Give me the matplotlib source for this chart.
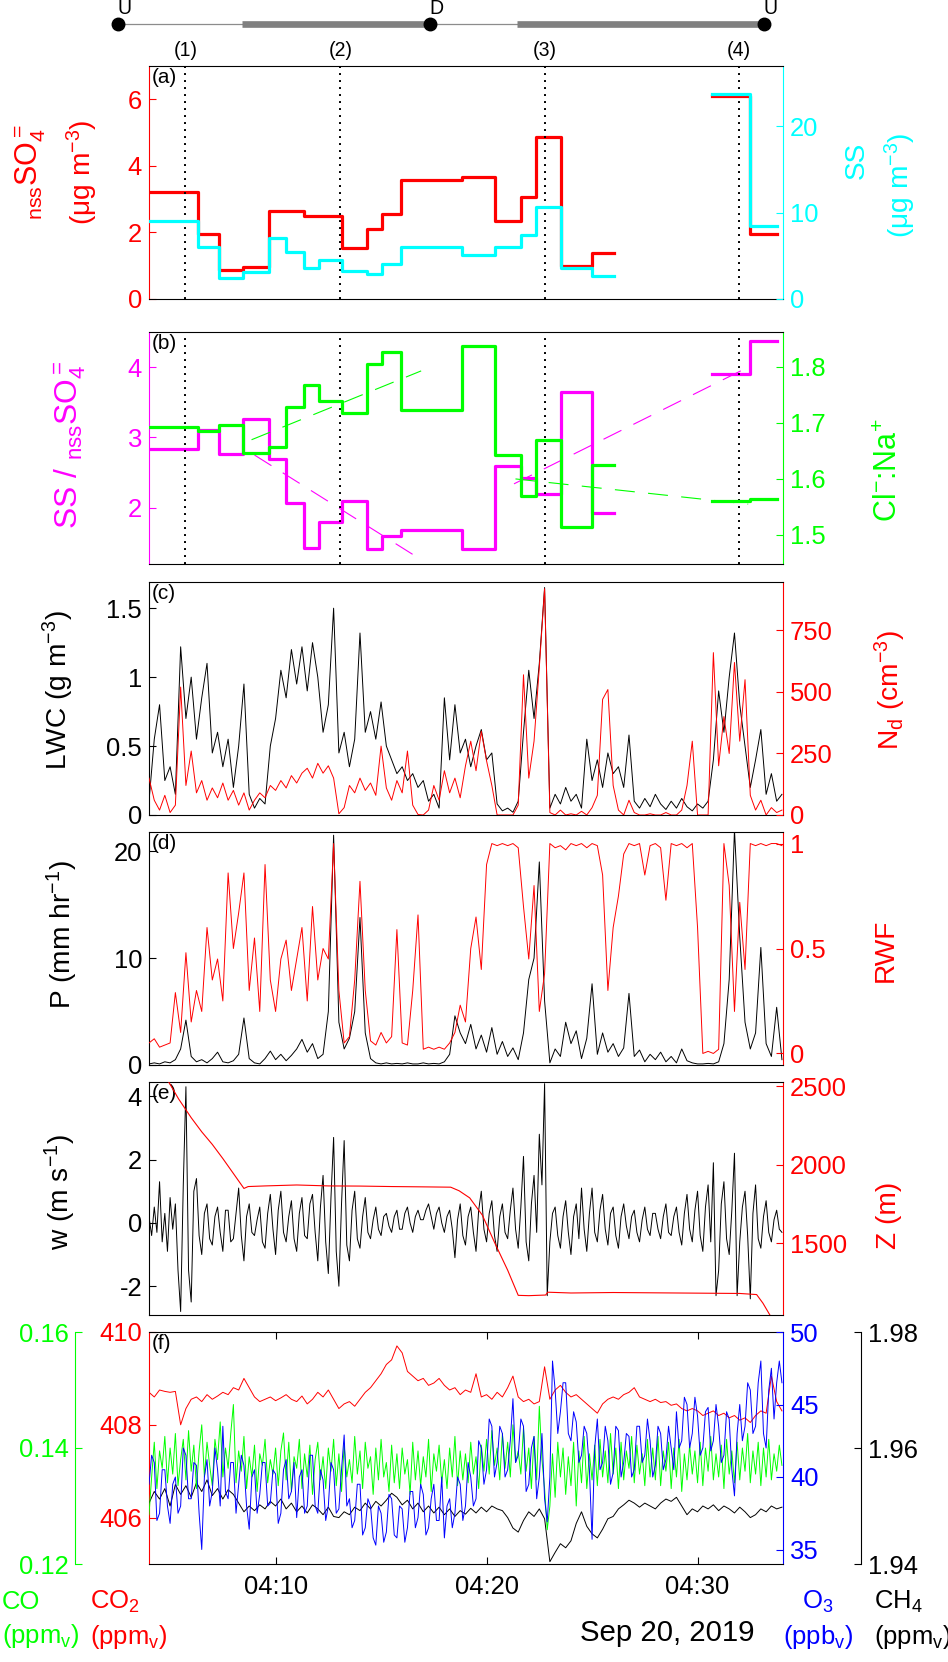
import numpy as np
import matplotlib
matplotlib.use("Agg")
import matplotlib.pyplot as plt
from matplotlib import font_manager
from matplotlib.ticker import FuncFormatter

_names = {f.name for f in font_manager.fontManager.ttflist}
FONT = 'Liberation Sans Narrow' if 'Liberation Sans Narrow' in _names else 'Liberation Sans'
SC = 1.0 if FONT.endswith('Narrow') else 0.88

plt.rcParams['font.family'] = [FONT, 'DejaVu Sans']
plt.rcParams['mathtext.fontset'] = 'custom'
plt.rcParams['mathtext.rm'] = FONT
plt.rcParams['mathtext.it'] = FONT + ':italic'
plt.rcParams['mathtext.default'] = 'regular'
plt.rcParams['axes.unicode_minus'] = False

RED, CYAN, MAG, GREEN, BLUE = '#ff0000', '#00ffff', '#ff00ff', '#00ff00', '#0000ff'

# ---- filter samples (minutes after 04:00) ----
filt_edges = [4.05, 6.3, 7.33, 8.45, 9.7, 10.49, 11.34, 12.04, 13.16, 14.32, 15.02,
              15.94, 18.85, 20.42, 21.62, 22.34, 23.52, 25.0, 26.04, 30.69, 32.48, 33.75]
nss_so4 = [3.2, 1.96, 0.87, 0.95, 2.63, 2.63, 2.49, 2.49, 1.54, 2.11, 2.55,
           3.59, 3.67, 2.33, 3.06, 4.87, 0.98, 1.38, np.nan, 6.1, 1.94]
sea_salt = [9.09, 6.07, 2.4, 3.1, 7.08, 5.42, 3.56, 4.53, 3.21, 2.9, 4.06,
            6.07, 5.14, 6.07, 7.43, 10.64, 3.6, 2.63, np.nan, 23.8, 8.47]
ss_ratio = [2.84, 3.10, 2.76, 3.26, 2.69, 2.07, 1.43, 1.80, 2.10, 1.42, 1.60,
            1.69, 1.41, 2.60, 2.43, 2.19, 3.65, 1.92, np.nan, 3.90, 4.37]
cl_na = [1.692, 1.685, 1.697, 1.646, 1.657, 1.729, 1.768, 1.739, 1.717, 1.805, 1.827,
         1.723, 1.838, 1.642, 1.570, 1.670, 1.514, 1.624, np.nan, 1.560, 1.565]

# fit lines in panel (b)
fit_cl_t = [[8.86, 16.9], [21.37, 32.4]]
fit_cl_v = [[1.670, 1.793], [1.600, 1.555]]
fit_ratio_t = [[9.0, 16.8], [21.3, 32.4]]
fit_ratio_v = [[2.75, 1.28], [2.34, 4.00]]

marks_t = [5.73, 13.07, 22.75, 31.95]
marks_lab = ['(1)', '(2)', '(3)', '(4)']

track_t = [2.52, 17.30, 33.14]
track_lab = ['U', 'D', 'U']
level_legs = [(8.42, 17.16), (21.46, 32.98)]

# ---- 15 s samples from 04:04 ----
t0, dt = 4.0, 0.25

lwc = [0.1, 0.55, 0.8, 0.25, 0.35, 0.15, 1.22, 0.7, 1.0, 0.55, 0.85, 1.1,
       0.45, 0.6, 0.35, 0.55, 0.2, 0.5, 0.95, 0.15, 0.05, 0.12, 0.08, 0.5,
       0.7, 1.05, 0.85, 1.2, 0.95, 1.22, 0.9, 1.25, 1.0, 0.6, 0.8, 1.5,
       0.45, 0.6, 0.35, 0.55, 1.32, 0.6, 0.75, 0.55, 0.82, 0.5, 0.4, 0.3,
       0.35, 0.25, 0.3, 0.2, 0.25, 0.1, 0.15, 0.05, 0.85, 0.4, 0.8, 0.45,
       0.55, 0.35, 0.5, 0.62, 0.4, 0.45, 0.08, 0.03, 0.05, 0.02, 0.1, 0.6,
       1.05, 0.7, 1.1, 1.65, 0.05, 0.15, 0.08, 0.2, 0.1, 0.15, 0.05, 0.55,
       0.25, 0.4, 0.2, 0.45, 0.3, 0.35, 0.2, 0.58, 0.1, 0.05, 0.12, 0.06,
       0.15, 0.08, 0.04, 0.1, 0.05, 0.12, 0.06, 0.03, 0.08, 0.05, 0.1, 0.4,
       0.9, 0.6, 1.0, 1.32, 0.8, 0.5, 0.2, 0.4, 0.62, 0.15, 0.3, 0.1, 0.15]
nd = [150, 60, 20, 80, 10, 40, 520, 120, 260, 90, 140, 60,
      110, 70, 130, 60, 100, 40, 90, 20, 60, 90, 70, 120,
      100, 140, 110, 160, 130, 170, 190, 150, 210, 170, 200, 150,
      5, 30, 120, 90, 150, 100, 130, 80, 280, 110, 60, 140,
      90, 260, 40, 2, 0, 20, 120, 60, 180, 90, 150, 70,
      200, 300, 180, 340, 220, 120, 0, 0, 0, 0, 40, 570,
      150, 300, 600, 920, 10, 0, 20, 0, 5, 0, 15, 0,
      30, 80, 470, 510, 120, 20, 0, 60, 10, 0, 0, 5,
      0, 0, 10, 0, 0, 20, 120, 300, 0, 0, 0, 660,
      200, 400, 250, 620, 300, 550, 80, 20, 60, 0, 30, 10, 20]
precip = [0.1, 0.2, 0.1, 0.3, 0.2, 0.5, 1.5, 4.2, 0.8, 0.3, 0.5, 0.2,
          0.6, 1.2, 0.3, 0.2, 0.4, 1.0, 4.4, 0.6, 0.2, 0.1, 0.6, 1.3,
          0.5, 1.0, 0.4, 0.9, 1.5, 2.4, 1.2, 2.0, 0.6, 1.0, 5.0, 21.5,
          4.0, 1.5, 2.5, 5.0, 13.8, 3.0, 0.6, 0.2, 0.1, 0.2, 0.1, 0.15,
          0.1, 0.2, 0.1, 0.1, 0.2, 0.1, 0.15, 0.1, 0.3, 1.0, 4.6, 3.0,
          2.0, 3.8, 1.5, 2.8, 1.2, 3.5, 1.0, 2.2, 0.8, 1.6, 0.5, 3.0,
          8.0, 10.0, 19.0, 6.0, 0.2, 1.5, 0.8, 4.0, 2.0, 3.2, 0.6, 2.5,
          7.6, 1.0, 3.0, 1.2, 2.0, 0.8, 1.6, 6.7, 0.8, 1.4, 0.3, 1.0,
          0.5, 1.2, 0.3, 0.8, 0.2, 1.5, 0.4, 0.2, 0.1, 0.1, 0.15, 0.1,
          0.3, 2.0, 8.0, 22.0, 12.0, 4.0, 1.5, 3.0, 11.0, 2.0, 0.8, 5.4, 0.5]
rwf = [0.05, 0.07, 0.03, 0.04, 0.05, 0.29, 0.1, 0.48, 0.15, 0.3, 0.2, 0.6,
       0.35, 0.45, 0.25, 0.86, 0.5, 0.67, 0.86, 0.3, 0.55, 0.2, 0.9, 0.35,
       0.2, 0.45, 0.54, 0.3, 0.45, 0.6, 0.25, 0.7, 0.35, 0.5, 0.45, 1.0,
       0.3, 0.05, 0.08, 0.35, 0.82, 0.3, 0.06, 0.04, 0.1, 0.05, 0.08, 0.59,
       0.05, 0.04, 0.3, 0.66, 0.02, 0.03, 0.02, 0.03, 0.02, 0.05, 0.1, 0.23,
       0.15, 0.5, 0.65, 0.4, 0.9, 1.0, 0.99, 1.0, 0.99, 1.0, 0.98, 0.7,
       0.45, 0.8, 0.2, 0.38, 1.0, 0.98, 0.99, 0.97, 1.0, 0.99, 1.0, 0.98,
       1.0, 0.99, 0.85, 0.3, 0.6, 0.75, 0.95, 1.0, 0.99, 1.0, 0.85, 0.99,
       1.0, 0.98, 0.73, 1.0, 0.99, 1.0, 0.98, 1.0, 0.6, 0.0, 0.01, 0.0,
       0.02, 1.0, 0.8, 0.2, 0.72, 0.4, 1.0, 0.99, 1.0, 0.99, 1.0, 1.0, 0.99]
co2 = [408.7, 408.6, 408.75, 408.72, 408.7, 408.72, 408.0, 408.35, 408.55, 408.6, 408.5, 408.65,
       408.55, 408.62, 408.7, 408.65, 408.8, 408.75, 409.0, 408.8, 408.6, 408.5, 408.55, 408.6,
       408.52, 408.58, 408.65, 408.55, 408.5, 408.62, 408.45, 408.55, 408.7, 408.6, 408.75, 408.55,
       408.35, 408.45, 408.5, 408.4, 408.55, 408.7, 408.8, 408.95, 409.1, 409.3, 409.4, 409.7,
       409.55, 409.15, 409.05, 408.95, 409.0, 408.85, 408.9, 409.0, 408.85, 408.75, 408.8, 408.65,
       408.75, 408.7, 409.1, 408.6, 408.65, 408.55, 408.7, 408.6, 408.8, 409.05, 408.6, 408.5,
       408.55, 408.45, 408.5, 409.25, 408.55, 408.75, 408.85, 408.7, 408.6, 408.65, 408.55, 408.45,
       408.35, 408.25, 408.45, 408.55, 408.6, 408.55, 408.65, 408.7, 408.8, 408.6, 408.55, 408.5,
       408.55, 408.48, 408.5, 408.42, 408.45, 408.35, 408.3, 408.35, 408.3, 408.2, 408.25, 408.3,
       408.2, 408.25, 408.15, 408.2, 408.1, 408.15, 408.05, 408.2, 408.3, 408.25, 409.05, 408.5, 408.3]
ch4 = [1.9505, 1.9525, 1.9512, 1.9530, 1.9500, 1.9537, 1.9520, 1.9535, 1.9515, 1.9540, 1.9525, 1.9545,
       1.9518, 1.9530, 1.9512, 1.9528, 1.9520, 1.9505, 1.9490, 1.9500, 1.9492, 1.9502, 1.9495, 1.9508,
       1.9500, 1.9512, 1.9495, 1.9505, 1.9490, 1.9500, 1.9488, 1.9502, 1.9495, 1.9485, 1.9498, 1.9482,
       1.9480, 1.9490, 1.9485, 1.9498, 1.9492, 1.9505, 1.9495, 1.9508, 1.9500, 1.9510, 1.9522, 1.9515,
       1.9502, 1.9510, 1.9495, 1.9505, 1.9490, 1.9500, 1.9488, 1.9498, 1.9485, 1.9495, 1.9482, 1.9492,
       1.9486, 1.9496, 1.9488, 1.9498, 1.9490, 1.9500, 1.9495, 1.9492, 1.9480, 1.9462, 1.9455, 1.9475,
       1.9490, 1.9482, 1.9495, 1.9478, 1.9404, 1.9420, 1.9435, 1.9428, 1.9440, 1.9470, 1.9490, 1.9465,
       1.9452, 1.9445, 1.9460, 1.9478, 1.9482, 1.9495, 1.9502, 1.9510, 1.9505, 1.9498, 1.9505, 1.9500,
       1.9495, 1.9505, 1.9512, 1.9508, 1.9515, 1.9500, 1.9485, 1.9495, 1.9490, 1.9500, 1.9495, 1.9502,
       1.9492, 1.9500, 1.9495, 1.9488, 1.9498, 1.9490, 1.9480, 1.9485, 1.9495, 1.9490, 1.9500, 1.9495, 1.9498]

# ---- 7.5 s samples from 04:04 ----
hi_dt = 0.125
w_vert = [0.2, -0.4, 0.5, -0.3, 1.3, -0.6, 0.3, -0.9,
          0.8, -0.2, 0.6, -1.5, -2.8, 1.2, 4.3, -1.5,
          -2.5, 1.0, 1.4, -0.4, -1.0, 0.3, 0.6, -0.5,
          -0.7, 0.2, 0.5, -0.3, -0.9, 0.4, 0.4, -0.6,
          -0.5, 0.3, 1.1, -0.4, -1.2, 0.2, 0.6, -0.3,
          -0.4, 0.1, 0.5, -0.6, -0.8, 0.3, 0.9, -0.2,
          -1.0, 0.4, 1.0, -0.3, -0.6, 0.2, 0.7, -0.5,
          -0.9, 0.3, 0.8, -0.4, -0.5, 0.6, 0.9, -0.3,
          -1.2, 0.5, 1.5, -0.6, -1.6, 0.8, 2.7, -0.9,
          -2.0, 0.6, 2.6, -0.7, -1.2, 0.4, 1.0, -0.5,
          -0.8, 0.2, 0.8, -0.3, -0.5, 0.1, 0.5, -0.2,
          -0.4, 0.2, 0.3, -0.1, -0.3, 0.2, 0.4, -0.2,
          -0.2, 0.3, 0.5, 0.0, -0.3, 0.2, 0.4, 0.1,
          0.1, 0.4, 0.6, 0.2, -0.2, 0.3, 0.5, 0.0,
          -0.3, 0.2, 0.4, -0.2, -1.1, 0.1, 0.6, -0.4,
          -0.7, 0.2, 0.5, -0.3, -0.9, 0.4, 1.0, -0.2,
          -0.6, 0.3, 0.7, -0.4, -0.9, 0.2, 0.6, -0.3,
          -0.5, 0.4, 1.1, -0.2, -0.8, 0.5, 2.1, -0.6,
          -1.2, 0.6, 1.5, -0.3, 2.8, 1.2, 4.4, -2.3,
          -0.6, 0.3, 0.5, -0.4, -0.8, 0.2, 0.7, -0.3,
          -1.0, 0.2, 0.6, -0.5, 1.1, -0.2, -0.9, 0.3,
          1.1, -0.3, -0.6, 0.4, 0.9, -0.2, -0.7, 0.3,
          0.5, -0.4, -0.8, 0.2, 0.6, -0.1, -0.5, 0.2,
          0.4, -0.3, -0.6, 0.1, 0.5, -0.2, -0.4, 0.3,
          0.3, -0.2, -0.5, 0.2, 0.6, -0.3, -0.4, 0.2,
          0.5, -0.3, -0.7, 0.3, 0.9, -0.2, -0.6, 0.4,
          1.0, -0.4, -0.9, 0.5, 1.2, -0.6, 1.9, -2.3,
          -1.5, 0.6, 1.3, -0.5, -1.0, 0.4, 2.2, -2.3,
          -0.6, 0.5, 1.0, -0.4, -2.4, 0.3, 1.2, -0.5,
          -0.8, 0.2, 0.7, -0.3, -0.6, 0.1, 0.4, -0.2,
          -0.3]
co = [.1285, .1350, .1410, .1330, .1395, .1365, .1420, .1340,
      .1400, .1355, .1425, .1335, .1380, .1415, .1345, .1430,
      .1360, .1405, .1330, .1395, .1440, .1350, .1410, .1370,
      .1335, .1415, .1380, .1445, .1350, .1400, .1365, .1425,
      .1475, .1340, .1395, .1360, .1420, .1330, .1385, .1350,
      .1405, .1325, .1390, .1370, .1415, .1340, .1380, .1355,
      .1400, .1335, .1395, .1426, .1345, .1410, .1325, .1385,
      .1365, .1415, .1330, .1390, .1350, .1405, .1320, .1380,
      .1410, .1345, .1385, .1330, .1400, .1360, .1415, .1335,
      .1390, .1325, .1405, .1350, .1380, .1340, .1420, .1355,
      .1395, .1330, .1410, .1365, .1385, .1320, .1400, .1345,
      .1415, .1350, .1375, .1325, .1405, .1340, .1390, .1330,
      .1400, .1355, .1380, .1320, .1410, .1345, .1395, .1335,
      .1385, .1350, .1415, .1325, .1390, .1360, .1405, .1340,
      .1380, .1330, .1400, .1350, .1420, .1335, .1395, .1345,
      .1390, .1340, .1410, .1355, .1385, .1330, .1405, .1360,
      .1415, .1355, .1430, .1370, .1400, .1345, .1425, .1365,
      .1410, .1350, .1440, .1375, .1395, .1355, .1435, .1360,
      .1400, .1330, .1420, .1345, .1472, .1380, .1330, .1259,
      .1300, .1390, .1315, .1410, .1350, .1400, .1320, .1385,
      .1335, .1410, .1300, .1395, .1340, .1420, .1330, .1390,
      .1345, .1405, .1335, .1415, .1350, .1395, .1340, .1425,
      .1355, .1400, .1330, .1410, .1345, .1395, .1365, .1420,
      .1340, .1405, .1355, .1390, .1335, .1415, .1350, .1400,
      .1345, .1420, .1335, .1395, .1360, .1410, .1330, .1400,
      .1350, .1415, .1325, .1390, .1345, .1405, .1355, .1395,
      .1340, .1410, .1335, .1400, .1360, .1420, .1345, .1390,
      .1350, .1405, .1330, .1415, .1355, .1395, .1340, .1410,
      .1345, .1400, .1360, .1425, .1340, .1395, .1355, .1410,
      .1335, .1400, .1350, .1415, .1345, .1390, .1360, .1405,
      .1370]
o3 = [39.5, 41.5, 41.0, 37.0, 37.5, 40.5, 40.5, 38.0,
      36.8, 39.5, 40.0, 37.5, 38.0, 42.0, 41.5, 38.5,
      38.5, 41.0, 40.8, 37.5, 35.0, 40.0, 41.2, 38.0,
      39.0, 42.0, 40.5, 38.0, 43.5, 39.0, 38.5, 41.0,
      41.0, 37.5, 39.5, 41.5, 40.8, 38.0, 36.4, 40.0,
      40.5, 37.5, 38.8, 41.0, 41.0, 38.0, 38.2, 40.5,
      40.2, 36.8, 37.5, 40.5, 41.2, 38.5, 39.0, 41.0,
      37.2, 40.0, 40.5, 37.5, 38.0, 41.5, 41.5, 38.0,
      37.5, 40.5, 39.8, 37.0, 38.0, 41.0, 40.5, 37.5,
      37.8, 40.5, 42.9, 38.0, 38.5, 36.5, 37.0, 39.5,
      39.5, 36.0, 36.5, 38.5, 38.0, 35.8, 35.3, 38.0,
      37.5, 35.5, 36.2, 38.8, 38.5, 36.0, 35.8, 38.0,
      37.8, 35.5, 36.5, 39.0, 39.0, 36.5, 37.2, 39.5,
      38.8, 36.0, 36.5, 38.5, 39.5, 37.0, 37.0, 40.0,
      35.8, 38.0, 38.5, 36.5, 37.5, 40.0, 39.5, 37.0,
      38.0, 41.0, 40.0, 38.0, 38.5, 42.5, 42.0, 39.5,
      40.5, 44.0, 43.5, 40.0, 41.0, 43.5, 43.0, 40.0,
      40.5, 42.5, 45.4, 41.0, 41.5, 44.0, 43.5, 39.0,
      39.5, 42.0, 42.8, 38.5, 40.0, 43.0, 38.5, 36.9,
      40.0, 48.0, 46.0, 43.0, 44.5, 46.5, 46.5, 43.0,
      42.5, 44.5, 43.8, 41.0, 41.5, 43.5, 43.0, 40.5,
      35.7, 42.0, 44.0, 40.5, 41.0, 43.5, 42.5, 39.5,
      40.3, 43.5, 43.2, 40.0, 41.0, 43.0, 42.8, 40.0,
      40.5, 43.5, 43.5, 41.0, 41.5, 44.0, 42.5, 40.0,
      40.8, 43.5, 43.0, 40.5, 41.2, 43.5, 42.0, 40.5,
      44.5, 42.0, 42.5, 45.5, 45.0, 42.0, 43.0, 45.5,
      44.2, 41.5, 42.0, 44.5, 44.8, 41.8, 42.5, 45.0,
      43.5, 41.0, 41.5, 44.5, 44.0, 40.5, 38.7, 43.0,
      45.0, 42.5, 43.5, 46.5, 46.0, 43.0, 43.5, 46.5,
      48.0, 43.0, 42.0, 46.0, 47.5, 44.0, 46.5, 48.0,
      46.5]

# altitude, sparse points
alt_t = [4.9, 5.4, 6.0, 6.5, 7.0, 7.5, 8.0, 8.5, 8.7, 9.5, 11.0, 12.5, 14.0, 15.5, 17.0,
         18.3, 18.7, 19.2, 19.8, 20.4, 21.0, 21.5, 22.0, 22.8, 22.9, 24.0, 26.0, 28.0,
         30.0, 32.0, 32.8, 33.1, 33.45]
alt_z = [2535, 2420, 2300, 2210, 2130, 2040, 1945, 1850, 1862, 1866, 1872, 1866, 1865,
         1862, 1860, 1858, 1835, 1790, 1680, 1500, 1330, 1170, 1168, 1172, 1190, 1185,
         1188, 1186, 1184, 1182, 1175, 1120, 1040]

time_ticks = [10, 20, 30]
time_labels = ['04:10', '04:20', '04:30']

t = t0 + dt * np.arange(len(lwc))
th = t0 + hi_dt * np.arange(len(w_vert))

# ---- layout ----
W, H = 948, 1662
XL = (4.0, 34.05)
L, AW = 149 / W, 634 / W
panel_px = [(66, 299), (332, 564), (582, 815), (832, 1065), (1082, 1315), (1332, 1564)]
TICK = 21 * SC
LAB = 23 * SC
fmt = FuncFormatter(lambda v, p: '%g' % v)


def steps(edges, vals):
    e = np.asarray(edges, float)
    v = np.asarray(vals, float)
    return np.repeat(e, 2)[1:-1], np.repeat(v, 2)


def make_panel(i, lcol, rcol, letter):
    top, bot = panel_px[i]
    ax = fig.add_axes([L, 1 - bot / H, AW, (bot - top) / H])
    ax2 = ax.twinx()
    ax.set_xlim(*XL)
    ax.set_xticks([])
    for a, c in [(ax, lcol), (ax2, rcol)]:
        a.tick_params(axis='y', direction='in', length=5, width=0.8, labelsize=TICK, colors=c, pad=5)
        a.yaxis.set_major_formatter(fmt)
    for s in ax2.spines.values():
        s.set_visible(False)
    ax.spines['left'].set_color(lcol)
    ax.spines['right'].set_color(rcol)
    ax.text(0.004, 0.99, letter, transform=ax.transAxes, ha='left', va='top', fontsize=17 * SC)
    return ax, ax2


def ylab(x, y, s, c, size=LAB):
    fig.text(x / W, 1 - y / H, s, rotation=90, ha='center', va='center', color=c, fontsize=size)


fig = plt.figure(figsize=(W / 100, H / 100), dpi=100)

# ---- flight track strip ----
axs = fig.add_axes([L, 1 - 62 / H, AW, 62 / H])
axs.set_xlim(*XL)
axs.set_ylim(62, 0)
axs.axis('off')
axs.plot([track_t[0], track_t[-1]], [24, 24], color='#8c8c8c', lw=0.9, clip_on=False)
for a, b in level_legs:
    axs.plot([a, b], [24, 24], color='#808080', lw=4.8, solid_capstyle='butt', clip_on=False)
axs.plot(track_t, [24] * len(track_t), 'o', color='k', ms=9, clip_on=False)
for tt, s in zip(track_t, track_lab):
    axs.text(tt + 0.33, 9, s, ha='center', va='center', fontsize=16 * SC, clip_on=False)
for tt, s in zip(marks_t, marks_lab):
    axs.text(tt, 51, s, ha='center', va='center', fontsize=16 * SC, clip_on=False)

# ---- (a) ----
ax, ax2 = make_panel(0, RED, CYAN, '(a)')
ax.plot(*steps(filt_edges, nss_so4), color=RED, lw=2.3)
ax2.plot(*steps(filt_edges, sea_salt), color=CYAN, lw=2.3)
ax.set_ylim(0, 7)
ax.set_yticks([0, 2, 4, 6])
ax2.set_ylim(0, 27)
ax2.set_yticks([0, 10, 20])
for m in marks_t:
    ax.axvline(m, color='k', lw=1.4, ls=(0, (1, 2.6)))
ylab(30, 172, r'$_{nss}$SO$_4^{=}$', RED, 25 * SC)
ylab(82, 172, r'($\mu$g m$^{-3}$)', RED)
ylab(857, 160, 'SS', CYAN)
ylab(900, 185, r'($\mu$g m$^{-3}$)', CYAN)

# ---- (b) ----
ax, ax2 = make_panel(1, MAG, GREEN, '(b)')
ax.plot(*steps(filt_edges, ss_ratio), color=MAG, lw=2.3)
ax2.plot(*steps(filt_edges, cl_na), color=GREEN, lw=2.3)
for xs, ys in zip(fit_ratio_t, fit_ratio_v):
    ax.plot(xs, ys, color=MAG, lw=0.8, dashes=(18, 12))
for xs, ys in zip(fit_cl_t, fit_cl_v):
    ax2.plot(xs, ys, color=GREEN, lw=0.8, dashes=(18, 12))
ax.set_ylim(1.2, 4.5)
ax.set_yticks([2, 3, 4])
ax2.set_ylim(1.448, 1.8625)
ax2.set_yticks([1.5, 1.6, 1.7, 1.8])
for m in marks_t:
    ax.axvline(m, color='k', lw=1.4, ls=(0, (1, 2.6)))
ylab(70, 445, r'SS / $_{nss}$SO$_4^{=}$', MAG, 26 * SC)
ylab(889, 470, r'Cl$^{-}$:Na$^{+}$', GREEN, 25 * SC)

# ---- (c) ----
ax, ax2 = make_panel(2, 'k', RED, '(c)')
ax.plot(t, lwc, color='k', lw=0.7)
ax2.plot(t, nd, color=RED, lw=0.7)
ax.set_ylim(0, 1.69)
ax.set_yticks([0, 0.5, 1, 1.5])
ax2.set_ylim(0, 947)
ax2.set_yticks([0, 250, 500, 750])
ylab(58, 690, r'LWC (g m$^{-3}$)', 'k')
ylab(890, 690, r'N$_d$ (cm$^{-3}$)', RED)

# ---- (d) ----
ax, ax2 = make_panel(3, 'k', RED, '(d)')
ax.plot(t, precip, color='k', lw=0.7)
ax2.plot(t, rwf, color=RED, lw=0.7)
ax.set_ylim(0, 21.8)
ax.set_yticks([0, 10, 20])
ax2.set_ylim(-0.055, 1.055)
ax2.set_yticks([0, 0.5, 1])
ylab(62, 935, r'P (mm hr$^{-1}$)', 'k')
ylab(886, 950, 'RWF', RED)

# ---- (e) ----
ax, ax2 = make_panel(4, 'k', RED, '(e)')
ax.plot(th, w_vert, color='k', lw=0.7)
ax2.plot(alt_t, alt_z, color=RED, lw=0.8)
ax.set_ylim(-2.91, 4.45)
ax.set_yticks([-2, 0, 2, 4])
ax2.set_ylim(1045, 2527)
ax2.set_yticks([1500, 2000, 2500])
ylab(60, 1192, r'w (m s$^{-1}$)', 'k')
ylab(889, 1215, 'Z (m)', RED)

# ---- (f) ----
top, bot = panel_px[5]
axf = fig.add_axes([L, 1 - bot / H, AW, (bot - top) / H])
axf.set_xlim(*XL)
ax_ch4 = axf.twinx()
ax_co = axf.twinx()
ax_o3 = axf.twinx()
axf.plot(t, co2, color=RED, lw=0.7)
ax_ch4.plot(t, ch4, color='k', lw=0.7)
ax_co.plot(th, co, color=GREEN, lw=0.7)
ax_o3.plot(th, o3, color=BLUE, lw=0.7)
axf.set_ylim(405, 410)
axf.set_yticks([406, 408, 410])
ax_co.set_ylim(0.12, 0.16)
ax_co.set_yticks([0.12, 0.14, 0.16])
ax_o3.set_ylim(34, 50)
ax_o3.set_yticks([35, 40, 45, 50])
ax_ch4.set_ylim(1.94, 1.98)
ax_ch4.set_yticks([1.94, 1.96, 1.98])
for a in (ax_ch4, ax_co, ax_o3):
    for s in a.spines.values():
        s.set_visible(False)
ax_co.yaxis.tick_left()
ax_co.spines['left'].set_visible(True)
ax_co.spines['left'].set_position(('outward', 53))
ax_co.spines['left'].set_color(GREEN)
ax_ch4.spines['right'].set_visible(True)
ax_ch4.spines['right'].set_position(('outward', 56))
axf.spines['left'].set_color(RED)
axf.spines['right'].set_color(BLUE)
for a, c in [(axf, RED), (ax_co, GREEN), (ax_o3, BLUE), (ax_ch4, 'k')]:
    a.tick_params(axis='y', direction='in', length=5, width=0.8, labelsize=TICK, colors=c, pad=5)
    a.yaxis.set_major_formatter(fmt)
axf.set_xticks(time_ticks)
axf.set_xticklabels(time_labels)
axf.tick_params(axis='x', direction='in', top=True, length=5, width=0.8, labelsize=TICK, pad=8)
axf.text(0.004, 0.99, '(f)', transform=axf.transAxes, ha='left', va='top', fontsize=17 * SC)

fig.text(667 / W, 1 - 1633 / H, 'Sep 20, 2019', ha='center', va='center', fontsize=24 * SC)
bl = [(2, 'left', 'CO\n(ppm$_v$)', GREEN), (90, 'left', 'CO$_2$\n(ppm$_v$)', RED),
      (818, 'center', 'O$_3$\n(ppb$_v$)', BLUE), (874, 'left', 'CH$_4$\n(ppm$_v$)', 'k')]
for x, ha, s, c in bl:
    fig.text(x / W, 1 - 1620 / H, s, ha=ha, va='center', color=c, fontsize=21 * SC, linespacing=1.4)

fig.savefig('out.png', dpi=100)
